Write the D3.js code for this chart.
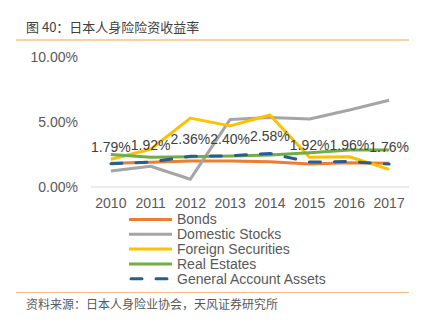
<!DOCTYPE html>
<html><head><meta charset="utf-8">
<script src="https://cdn.jsdelivr.net/npm/d3@7"></script>
<style>body{margin:0;background:#fff;}svg{display:block;}</style>
</head><body>
<svg id="c" width="438" height="324"></svg>
<script>
const years = ["2010","2011","2012","2013","2014","2015","2016","2017"];
const bonds = [1.82,1.90,2.00,2.00,1.95,1.77,1.87,1.82];
const domesticStocks = [1.23,1.60,0.60,5.20,5.35,5.23,5.92,6.67];
const foreignSecurities = [2.13,2.90,5.30,4.70,5.54,2.28,2.33,1.36];
const realEstates = [2.50,2.28,2.33,2.38,2.46,2.64,2.85,2.85];
const generalAccount = [1.79,1.92,2.36,2.40,2.58,1.92,1.96,1.76];
const yTicks = [0,5,10];
const seriesNames = ["Bonds","Domestic Stocks","Foreign Securities","Real Estates","General Account Assets"];

const series = [
  {name:seriesNames[0], values:bonds, color:"#ED7D31"},
  {name:seriesNames[1], values:domesticStocks, color:"#A5A5A5"},
  {name:seriesNames[2], values:foreignSecurities, color:"#FFC000"},
  {name:seriesNames[3], values:realEstates, color:"#70AD47"},
  {name:seriesNames[4], values:generalAccount, color:"#255E91", dash:true}
];

const svg = d3.select("#c");
const font = "'Liberation Sans', Arial, sans-serif";
const cjk = "'Noto Sans CJK SC', sans-serif";

// Title
svg.append("text").attr("x",26).attr("y",32).attr("font-family",cjk).attr("font-size",13)
  .attr("fill","#404040").text("图 40：日本人身险险资收益率");
svg.append("line").attr("x1",16).attr("x2",409).attr("y1",40).attr("y2",40)
  .attr("stroke","#F4A04B").attr("stroke-width",1.2);

const x = d3.scaleBand().domain(years).range([91,409]);
const y = d3.scaleLinear().domain([0,10]).range([187,57]);
const cx = d => x(d) + x.bandwidth()/2;

// baseline
svg.append("line").attr("x1",91).attr("x2",409).attr("y1",y(0)).attr("y2",y(0))
  .attr("stroke","#D9D9D9").attr("stroke-width",1);

// y axis labels
const yAxis = d3.axisLeft(y).tickValues(yTicks).tickFormat(d=>d.toFixed(2)+"%").tickSize(0).tickPadding(0);
const gy = svg.append("g").attr("transform","translate(78,0)").call(yAxis);
gy.select(".domain").remove();
gy.selectAll("text").attr("font-family",font).attr("font-size",14).attr("fill","#595959");

// x axis labels
const xAxis = d3.axisBottom(x).tickSize(0).tickPadding(0);
const gx = svg.append("g").attr("transform","translate(0,200)").call(xAxis);
gx.select(".domain").remove();
gx.selectAll("text").attr("font-family",font).attr("font-size",14).attr("fill","#595959").attr("dy","0.71em").attr("y",-2);

// lines
const line = d3.line().x((d,i)=>cx(years[i])).y(d=>y(d));
series.forEach(s=>{
  const p = svg.append("path").datum(s.values).attr("d",line).attr("fill","none")
    .attr("stroke",s.color).attr("stroke-width",3).attr("stroke-linejoin","round");
  if(s.dash) p.attr("stroke-dasharray","11,14").attr("stroke-linecap","round");
});

// data labels
svg.append("g").selectAll("text").data(generalAccount).join("text")
  .attr("x",(d,i)=>cx(years[i])).attr("y",(d)=>y(d)-12)
  .attr("text-anchor","middle").attr("font-family",font).attr("font-size",14)
  .attr("fill","#404040").text(d=>d.toFixed(2)+"%");

// legend
const lg = svg.append("g");
series.forEach((s,i)=>{
  const yy = 219.5 + i*14.8;
  const l = lg.append("line").attr("x1",s.dash?131:129).attr("x2",s.dash?170:172).attr("y1",yy).attr("y2",yy)
    .attr("stroke",s.color).attr("stroke-width",3);
  if(s.dash) l.attr("stroke-dasharray","11,14").attr("stroke-linecap","round");
  lg.append("text").attr("x",177).attr("y",yy).attr("dy","0.35em").attr("font-family",font)
    .attr("font-size",14).attr("fill","#595959").text(s.name);
});

// footer
svg.append("line").attr("x1",16).attr("x2",409).attr("y1",292.5).attr("y2",292.5)
  .attr("stroke","#F8BF88").attr("stroke-width",1.2);
svg.append("text").attr("x",26).attr("y",309).attr("font-family",cjk).attr("font-size",12)
  .attr("fill","#595959").text("资料来源：日本人身险业协会，天风证券研究所");
</script>
</body></html>
